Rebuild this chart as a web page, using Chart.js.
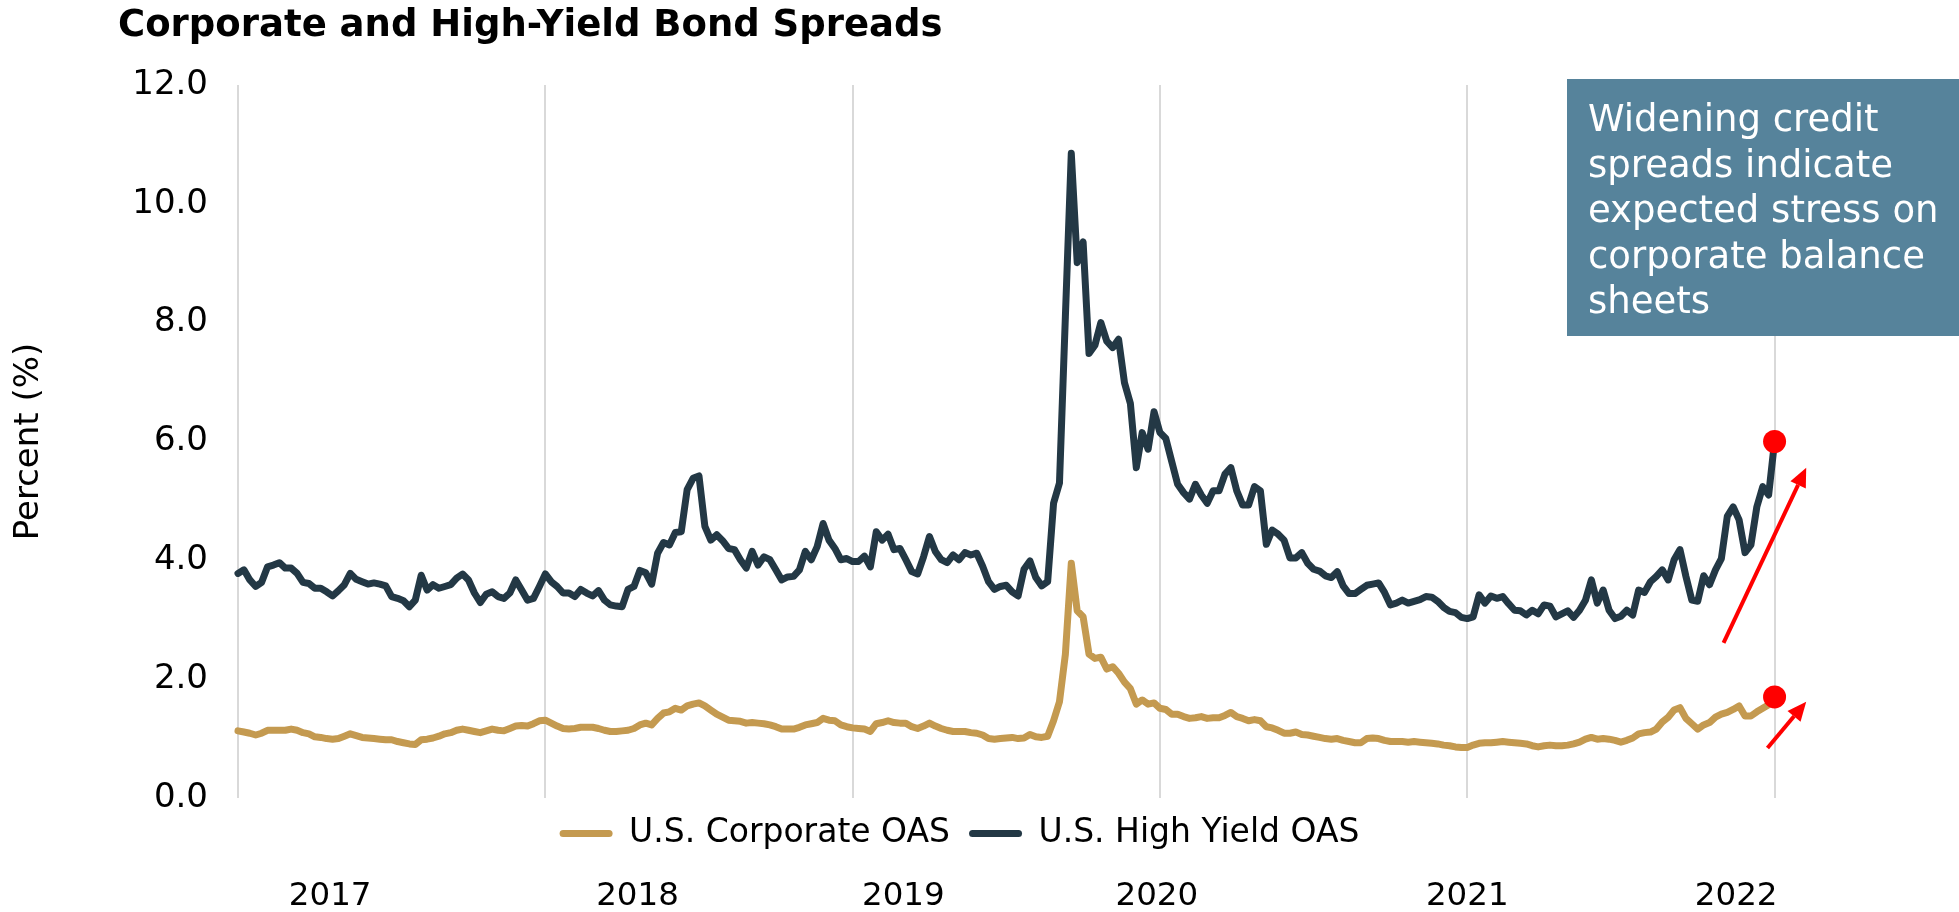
<!DOCTYPE html>
<html>
<head>
<meta charset="utf-8">
<title>Corporate and High-Yield Bond Spreads</title>
<script src="https://cdn.jsdelivr.net/npm/chart.js@4.4.1/dist/chart.umd.min.js"></script>
<style>
  html, body { margin: 0; padding: 0; background: #ffffff; }
  #wrap { position: relative; width: 1959px; height: 912px; }
</style>
</head>
<body>
<div id="wrap"><canvas id="spreads" width="1959" height="912"></canvas></div>
<script>
// ---- data -------------------------------------------------------------
const chartTitle = 'Corporate and High-Yield Bond Spreads';
const seriesNames = ['U.S. Corporate OAS', 'U.S. High Yield OAS'];

// weekly option-adjusted spreads, percent (Jul 2017 - Jul 2022)
const corporateOAS = [
  1.13, 1.11, 1.09, 1.06, 1.09, 1.14, 1.14, 1.14, 1.14, 1.16,
  1.14, 1.10, 1.08, 1.03, 1.02, 1.00, 0.99, 1.00, 1.04, 1.08,
  1.05, 1.02, 1.01, 1.00, 0.99, 0.98, 0.98, 0.95, 0.93, 0.91,
  0.90, 0.98, 0.99, 1.01, 1.04, 1.08, 1.10, 1.14, 1.16, 1.14,
  1.12, 1.10, 1.13, 1.16, 1.14, 1.13, 1.17, 1.21, 1.22, 1.21,
  1.25, 1.30, 1.31, 1.26, 1.21, 1.17, 1.16, 1.17, 1.19, 1.19,
  1.19, 1.17, 1.14, 1.12, 1.12, 1.13, 1.14, 1.17, 1.23, 1.26,
  1.23, 1.34, 1.43, 1.45, 1.51, 1.48, 1.55, 1.58, 1.60, 1.55,
  1.48, 1.41, 1.36, 1.31, 1.30, 1.29, 1.26, 1.27, 1.26, 1.25,
  1.23, 1.20, 1.16, 1.16, 1.16, 1.19, 1.23, 1.25, 1.27, 1.34,
  1.31, 1.30, 1.23, 1.20, 1.18, 1.17, 1.16, 1.12, 1.25, 1.27,
  1.30, 1.27, 1.26, 1.26, 1.20, 1.17, 1.21, 1.26, 1.21, 1.17,
  1.14, 1.12, 1.12, 1.12, 1.10, 1.09, 1.06, 1.00, 0.99, 1.00,
  1.01, 1.02, 1.00, 1.01, 1.07, 1.03, 1.02, 1.04, 1.30, 1.62,
  2.42, 3.95, 3.15, 3.05, 2.42, 2.35, 2.37, 2.17, 2.21, 2.10,
  1.95, 1.84, 1.58, 1.65, 1.58, 1.60, 1.51, 1.49, 1.41, 1.41,
  1.37, 1.34, 1.35, 1.37, 1.34, 1.35, 1.35, 1.39, 1.44, 1.37,
  1.34, 1.30, 1.32, 1.30, 1.20, 1.18, 1.14, 1.09, 1.09, 1.11,
  1.07, 1.06, 1.04, 1.02, 1.00, 0.99, 1.00, 0.97, 0.95, 0.93,
  0.93, 1.00, 1.01, 1.00, 0.97, 0.95, 0.95, 0.95, 0.94, 0.95,
  0.94, 0.93, 0.92, 0.91, 0.89, 0.88, 0.86, 0.85, 0.85, 0.89,
  0.92, 0.93, 0.93, 0.94, 0.95, 0.94, 0.93, 0.92, 0.91, 0.88,
  0.86, 0.88, 0.89, 0.88, 0.88, 0.89, 0.91, 0.94, 0.99, 1.02,
  0.99, 1.00, 0.99, 0.97, 0.94, 0.97, 1.01, 1.08, 1.10, 1.11,
  1.16, 1.28, 1.36, 1.48, 1.52, 1.34, 1.25, 1.16, 1.23, 1.27,
  1.36, 1.41, 1.44, 1.49, 1.55, 1.38, 1.38, 1.45, 1.51, 1.57,
  1.70
];

const highYieldOAS = [
  3.78, 3.84, 3.67, 3.56, 3.63, 3.89, 3.92, 3.96, 3.87, 3.87,
  3.78, 3.63, 3.61, 3.53, 3.53, 3.47, 3.40, 3.49, 3.59, 3.78,
  3.68, 3.64, 3.60, 3.62, 3.60, 3.57, 3.39, 3.36, 3.32, 3.22,
  3.33, 3.75, 3.50, 3.59, 3.53, 3.56, 3.59, 3.70, 3.77, 3.67,
  3.45, 3.29, 3.43, 3.47, 3.39, 3.36, 3.45, 3.67, 3.50, 3.33,
  3.36, 3.56, 3.77, 3.64, 3.56, 3.45, 3.45, 3.39, 3.51, 3.45,
  3.40, 3.49, 3.33, 3.25, 3.23, 3.22, 3.51, 3.56, 3.83, 3.79,
  3.60, 4.12, 4.30, 4.26, 4.47, 4.48, 5.19, 5.38, 5.42, 4.57,
  4.34, 4.43, 4.33, 4.20, 4.18, 4.01, 3.87, 4.15, 3.92, 4.06,
  4.01, 3.84, 3.67, 3.72, 3.73, 3.84, 4.15, 4.01, 4.23, 4.62,
  4.34, 4.20, 4.01, 4.03, 3.98, 3.98, 4.07, 3.89, 4.48, 4.34,
  4.44, 4.18, 4.20, 4.01, 3.81, 3.77, 4.06, 4.40, 4.15, 4.01,
  3.96, 4.09, 4.01, 4.13, 4.09, 4.12, 3.90, 3.64, 3.51, 3.56,
  3.58, 3.47, 3.40, 3.85, 3.99, 3.71, 3.57, 3.64, 4.96, 5.30,
  8.10, 10.85, 9.01, 9.36, 7.48, 7.62, 8.00, 7.69, 7.58, 7.72,
  6.99, 6.64, 5.56, 6.15, 5.87, 6.50, 6.15, 6.05, 5.66, 5.28,
  5.14, 5.03, 5.28, 5.10, 4.96, 5.17, 5.17, 5.45, 5.56, 5.17,
  4.93, 4.93, 5.24, 5.17, 4.27, 4.51, 4.44, 4.34, 4.04, 4.04,
  4.13, 3.95, 3.85, 3.82, 3.74, 3.71, 3.81, 3.57, 3.44, 3.44,
  3.51, 3.58, 3.60, 3.62, 3.46, 3.25, 3.28, 3.33, 3.28, 3.31,
  3.34, 3.39, 3.38, 3.31, 3.21, 3.14, 3.12, 3.04, 3.02, 3.05,
  3.42, 3.28, 3.40, 3.36, 3.39, 3.27, 3.16, 3.15, 3.08, 3.16,
  3.10, 3.25, 3.23, 3.05, 3.10, 3.15, 3.04, 3.16, 3.33, 3.67,
  3.28, 3.50, 3.16, 3.02, 3.06, 3.16, 3.08, 3.50, 3.46, 3.64,
  3.73, 3.84, 3.67, 4.01, 4.18, 3.73, 3.33, 3.31, 3.74, 3.59,
  3.84, 4.03, 4.74, 4.90, 4.68, 4.13, 4.26, 4.90, 5.24, 5.10,
  6.00
];

// axis ticks (x values are years from the start of the series)
const yTicks = [0, 2, 4, 6, 8, 10, 12];
const yearGridValues = [0, 1, 2, 3, 4, 5];
const yearLabels = ['2017', '2018', '2019', '2020', '2021', '2022'];
const yearLabelValues = [0.30, 1.30, 2.165, 2.99, 4.0, 4.875];

// call-out
const noteLines = ['Widening credit', 'spreads indicate', 'expected stress on', 'corporate balance', 'sheets'];
// trend arrows, in axis units: [fromX, fromY, toX, toY]
const trendArrows = [
  [4.834, 2.61, 5.103, 5.56],
  [4.977, 0.84, 5.103, 1.62]
];

// ---- styling ------------------------------------------------------------
const FONT = "'DejaVu Sans', Verdana, sans-serif";
const GOLD = '#c49a50';
const SLATE = '#233845';
const RED = '#ff0000';
const NOTE_BG = '#56839b';
const SPAN_YEARS = 5;
const X_MAX = 5.47;

Chart.defaults.font.family = FONT;
Chart.defaults.color = '#000000';

const xOf = (i, n) => i * SPAN_YEARS / (n - 1);
const toPoints = arr => arr.map((v, i) => ({ x: xOf(i, arr.length), y: v }));
const lastDot = arr => ctx => (ctx.dataIndex === arr.length - 1 ? 11.5 : 0);

function lineDataset(label, values, color) {
  return {
    label,
    data: toPoints(values),
    borderColor: color,
    backgroundColor: color,
    borderWidth: 7,
    borderJoinStyle: 'round',
    borderCapStyle: 'round',
    tension: 0,
    pointRadius: lastDot(values),
    pointHoverRadius: lastDot(values),
    pointBackgroundColor: RED,
    pointBorderColor: RED,
    pointBorderWidth: 0,
    clip: false
  };
}

// title, trend arrows and call-out box
const decorations = {
  id: 'decorations',
  afterDraw(chart) {
    const { ctx, scales: { x, y } } = chart;
    ctx.save();

    ctx.fillStyle = '#000000';
    ctx.font = `bold 37px ${FONT}`;
    ctx.textBaseline = 'alphabetic';
    ctx.textAlign = 'left';
    ctx.fillText(chartTitle, 118, 36);

    ctx.strokeStyle = RED;
    ctx.fillStyle = RED;
    ctx.lineWidth = 4;
    ctx.lineCap = 'butt';
    trendArrows.forEach(([fx, fy, tx, ty]) => {
      const x0 = x.getPixelForValue(fx), y0 = y.getPixelForValue(fy);
      const x1 = x.getPixelForValue(tx), y1 = y.getPixelForValue(ty);
      const a = Math.atan2(y1 - y0, x1 - x0);
      const head = 19, half = 8.5;
      const bx = x1 - head * Math.cos(a), by = y1 - head * Math.sin(a);
      ctx.beginPath();
      ctx.moveTo(x0, y0);
      ctx.lineTo(bx, by);
      ctx.stroke();
      ctx.beginPath();
      ctx.moveTo(x1, y1);
      ctx.lineTo(bx + half * Math.sin(a), by - half * Math.cos(a));
      ctx.lineTo(bx - half * Math.sin(a), by + half * Math.cos(a));
      ctx.closePath();
      ctx.fill();
    });

    ctx.fillStyle = NOTE_BG;
    ctx.fillRect(1567, 79, chart.width - 1567, 257);
    ctx.fillStyle = '#ffffff';
    ctx.font = `37px ${FONT}`;
    noteLines.forEach((line, k) => ctx.fillText(line, 1588, 131 + k * 45.5));

    ctx.restore();
  }
};

new Chart(document.getElementById('spreads'), {
  type: 'line',
  data: {
    datasets: [
      lineDataset(seriesNames[0], corporateOAS, GOLD),
      lineDataset(seriesNames[1], highYieldOAS, SLATE)
    ]
  },
  options: {
    responsive: false,
    devicePixelRatio: 1,
    animation: false,
    events: [],
    layout: { padding: { top: 85, right: 40, bottom: 0, left: 0 } },
    scales: {
      x: {
        type: 'linear',
        min: 0,
        max: X_MAX,
        afterBuildTicks: s => { s.ticks = yearGridValues.map(v => ({ value: v })); },
        grid: { color: '#d9d9d9', lineWidth: 2, drawTicks: false },
        border: { display: false },
        ticks: { display: false }
      },
      x2: {
        type: 'linear',
        position: 'bottom',
        weight: 2000,
        min: 0,
        max: X_MAX,
        afterBuildTicks: s => { s.ticks = yearLabelValues.map(v => ({ value: v })); },
        afterFit: s => { s.height = 52; },
        grid: { display: false, drawTicks: false },
        border: { display: false },
        ticks: {
          autoSkip: false,
          maxRotation: 0,
          padding: 17,
          color: '#000000',
          font: { size: 32.5 },
          callback: (v, i) => yearLabels[i]
        }
      },
      y: {
        min: 0,
        max: 12,
        afterBuildTicks: s => { s.ticks = yTicks.map(v => ({ value: v })); },
        afterFit: s => { s.width = 238; },
        grid: { display: false, drawTicks: false },
        border: { display: false },
        ticks: { padding: 30, color: '#000000', font: { size: 34 }, callback: v => Number(v).toFixed(1) },
        title: { display: true, text: 'Percent (%)', color: '#000000', font: { size: 34 }, padding: { top: 9, bottom: 0 } }
      }
    },
    plugins: {
      title: { display: false },
      tooltip: { enabled: false },
      legend: {
        position: 'bottom',
        labels: {
          boxWidth: 53,
          boxHeight: 7,
          useBorderRadius: true,
          borderRadius: 3.5,
          padding: 19,
          color: '#000000',
          font: { size: 33 },
          generateLabels: chart =>
            Chart.defaults.plugins.legend.labels.generateLabels(chart).map(item =>
              Object.assign(item, { lineWidth: 0, fillStyle: chart.data.datasets[item.datasetIndex].borderColor }))
        }
      }
    }
  },
  plugins: [decorations]
});
</script>
</body>
</html>
